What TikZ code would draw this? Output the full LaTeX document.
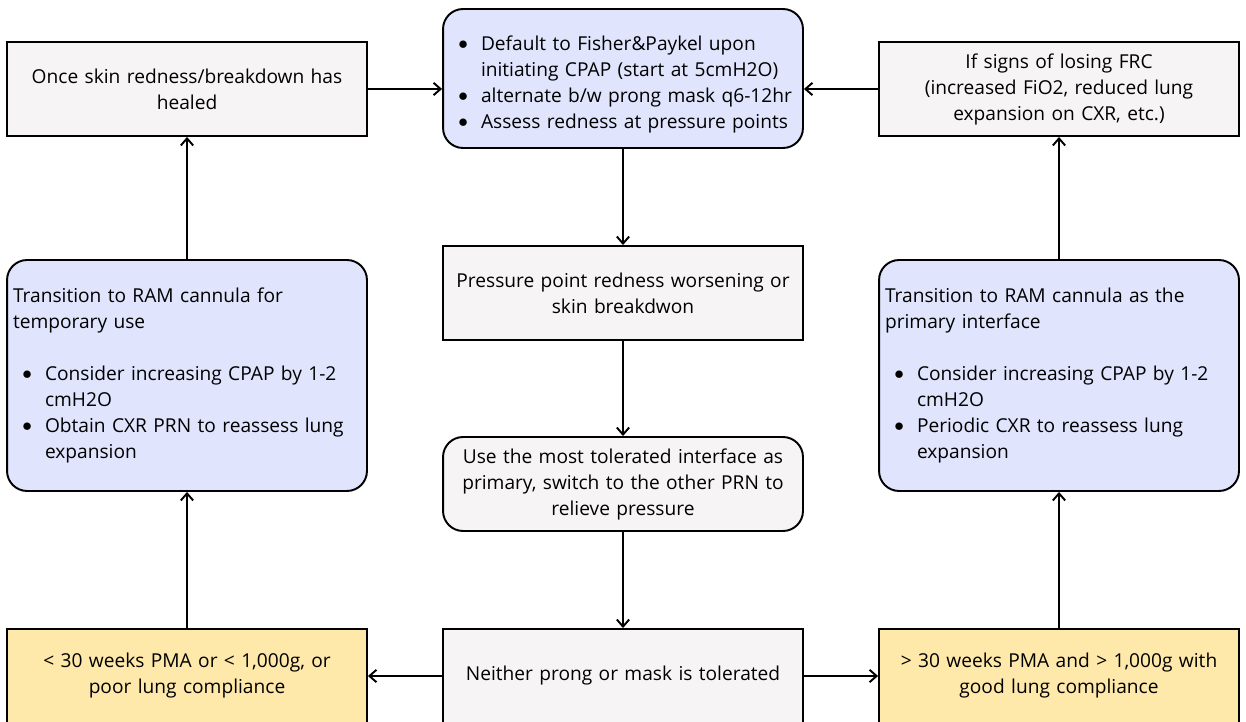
\documentclass[tikz,border=0pt]{standalone}
\usepackage{fontspec}
\setmainfont{Open Sans}
\usepackage{enumitem}
\usetikzlibrary{arrows.meta}
\definecolor{stepgray}{RGB}{246, 244, 244}
\definecolor{planblue}{RGB}{224, 228, 252}
\definecolor{crityellow}{RGB}{254, 233, 170}
\setlist[itemize]{nosep, leftmargin=0.64cm, labelsep=0.26cm, label=\raisebox{0.1ex}{$\bullet$}}

\begin{document}
\begin{tikzpicture}[x=0.02cm, y=-0.02cm,
    box/.style={draw=black, line width=1.1pt, minimum width=7.2cm, text width=6.96cm,
      inner xsep=0.12cm, align=center, font=\fontsize{10.9}{14.8}\selectfont},
    notebox/.style={box, fill=stepgray, minimum height=1.88cm},
    planbox/.style={box, fill=planblue, rounded corners=0.4cm, align=left},
    critbox/.style={box, fill=crityellow, minimum height=1.88cm},
    link/.style={line width=1.1pt, -{Straight Barb[length=4pt,width=7pt]}}]
  \clip (0,0) rectangle (1246,722);

  % top row
  \node[notebox] (heal) at (187,89) {Once skin redness/breakdown has\\healed};
  \node[planbox, minimum height=2.78cm] (start) at (623,78.5) {%
    \begin{itemize}
      \item Default to Fisher\&Paykel upon\newline initiating CPAP (start at 5cmH2O)
      \item alternate b/w prong mask q6-12hr
      \item Assess redness at pressure points
    \end{itemize}};
  \node[notebox] (frc) at (1059,89) {If signs of losing FRC\\(increased FiO2, reduced lung\\expansion on CXR, etc.)};

  % middle
  \node[planbox, minimum height=4.62cm] (tempram) at (187,375.5) {%
    Transition to RAM cannula for\newline temporary use\par\vspace{\baselineskip}
    \begin{itemize}
      \item Consider increasing CPAP by 1-2\newline cmH2O
      \item Obtain CXR PRN to reassess lung\newline expansion
    \end{itemize}};
  \node[notebox] (worse) at (623,293) {Pressure point redness worsening or\\skin breakdwon};
  \node[notebox, rounded corners=0.4cm] (toler) at (623,484) {Use the most tolerated interface as\\primary, switch to the other PRN to\\relieve pressure};
  \node[planbox, minimum height=4.62cm] (primram) at (1059,375.5) {%
    Transition to RAM cannula as the\newline primary interface\par\vspace{\baselineskip}
    \begin{itemize}
      \item Consider increasing CPAP by 1-2\newline cmH2O
      \item Periodic CXR to reassess lung\newline expansion
    \end{itemize}};

  % bottom row
  \node[critbox] (smallbaby) at (187,676) {< 30 weeks PMA or < 1,000g, or\\poor lung compliance};
  \node[notebox] (neither) at (623,676) {Neither prong or mask is tolerated};
  \node[critbox] (bigbaby) at (1059,676) {> 30 weeks PMA and > 1,000g with\\good lung compliance};

  % connectors
  \draw[link] (heal.east) -- (heal.east -| start.west);
  \draw[link] (frc.west) -- (frc.west -| start.east);
  \draw[link] (start) -- (worse);
  \draw[link] (worse) -- (toler);
  \draw[link] (toler) -- (neither);
  \draw[link] (neither) -- (smallbaby);
  \draw[link] (neither) -- (bigbaby);
  \draw[link] (smallbaby) -- (tempram);
  \draw[link] (tempram) -- (heal);
  \draw[link] (bigbaby) -- (primram);
  \draw[link] (primram) -- (frc);
\end{tikzpicture}
\end{document}
